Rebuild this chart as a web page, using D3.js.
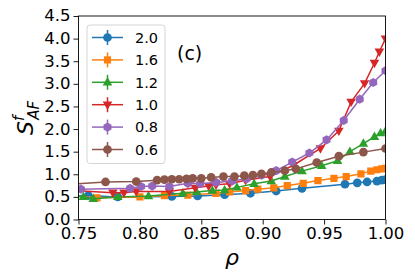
<!DOCTYPE html>
<html>
<head>
<meta charset="utf-8">
<script src="https://cdn.jsdelivr.net/npm/d3@7"></script>
<style>
  body { margin: 0; background: #fff; }
  svg { font-family: "DejaVu Sans", sans-serif; }
</style>
</head>
<body>
<div id="canvas-body"></div>
<script>
// series labels (legend)
var labels = ["2.0", "1.6", "1.2", "1.0", "0.8", "0.6"];

// rho values and S^f_AF values per series
var rho20 = [0.745, 0.758, 0.782, 0.826, 0.847, 0.869, 0.890, 0.911, 0.932, 0.967, 0.977, 0.985, 0.993, 0.997, 1.0];
var val20 = [0.52, 0.53, 0.50, 0.51, 0.52, 0.55, 0.58, 0.63, 0.69, 0.78, 0.81, 0.83, 0.85, 0.87, 0.88];

var rho16 = [0.745, 0.765, 0.800, 0.820, 0.839, 0.862, 0.873, 0.886, 0.896, 0.909, 0.920, 0.933, 0.945, 0.958, 0.968, 0.980, 0.988, 0.993, 0.997, 1.0];
var val16 = [0.52, 0.48, 0.50, 0.53, 0.54, 0.58, 0.61, 0.64, 0.67, 0.70, 0.75, 0.80, 0.86, 0.91, 0.95, 1.01, 1.07, 1.10, 1.12, 1.13];

var rho12 = [0.745, 0.754, 0.762, 0.782, 0.807, 0.835, 0.846, 0.859, 0.869, 0.879, 0.893, 0.907, 0.918, 0.932, 0.948, 0.961, 0.971, 0.982, 0.991, 0.996, 1.0];
var val12 = [0.53, 0.50, 0.46, 0.50, 0.52, 0.58, 0.61, 0.64, 0.65, 0.71, 0.79, 0.85, 0.95, 1.07, 1.19, 1.30, 1.50, 1.68, 1.83, 1.91, 1.95];

var rho10 = [0.745, 0.778, 0.787, 0.797, 0.824, 0.845, 0.856, 0.862, 0.873, 0.886, 0.906, 0.925, 0.947, 0.962, 0.972, 0.983, 0.991, 0.995, 1.0];
var val10 = [0.64, 0.59, 0.59, 0.62, 0.62, 0.70, 0.74, 0.77, 0.79, 0.87, 0.95, 1.20, 1.57, 1.96, 2.60, 3.01, 3.46, 3.71, 4.00];

var rho08 = [0.745, 0.752, 0.792, 0.801, 0.810, 0.824, 0.839, 0.849, 0.862, 0.875, 0.887, 0.899, 0.911, 0.924, 0.938, 0.952, 0.966, 0.979, 0.990, 1.0];
var val08 = [0.67, 0.67, 0.69, 0.73, 0.74, 0.73, 0.80, 0.79, 0.82, 0.85, 0.90, 0.98, 1.08, 1.27, 1.47, 1.76, 2.19, 2.66, 3.03, 3.29];

var rho06 = [0.745, 0.772, 0.797, 0.814, 0.820, 0.826, 0.832, 0.838, 0.843, 0.850, 0.858, 0.868, 0.877, 0.885, 0.892, 0.899, 0.907, 0.918, 0.927, 0.944, 0.962, 0.982, 1.0];
var val06 = [0.78, 0.83, 0.84, 0.87, 0.88, 0.89, 0.89, 0.90, 0.91, 0.91, 0.93, 0.95, 0.95, 0.97, 0.98, 1.01, 1.04, 1.08, 1.12, 1.26, 1.40, 1.49, 1.57];

// tick values
var xticks = [0.75, 0.80, 0.85, 0.90, 0.95, 1.00];
var yticks = [0.0, 0.5, 1.0, 1.5, 2.0, 2.5, 3.0, 3.5, 4.0, 4.5];

var colors = ["#1f77b4", "#ff7f0e", "#2ca02c", "#d62728", "#9467bd", "#8c564b"];
var symbols = ["circle", "square", "up", "down", "hex", "circle"];

var series = [
    {rho: rho20, val: val20},
    {rho: rho16, val: val16},
    {rho: rho12, val: val12},
    {rho: rho10, val: val10},
    {rho: rho08, val: val08},
    {rho: rho06, val: val06}
];

// size of svg image
const W = 415, H = 277;
const margin = {top: 16, right: 29.5, bottom: 57.5, left: 78.5};
const width = W - margin.left - margin.right, height = H - margin.top - margin.bottom;

var s = d3.select("#canvas-body").append("svg")
    .attr("width", W).attr("height", H);

var gs = s.append("g")
    .attr("transform", `translate(${margin.left}, ${margin.top})`);

// scales
var xs = d3.scaleLinear().domain([0.75, 1.0]).range([0, width]);
var ys = d3.scaleLinear().domain([0, 4.5]).range([height, 0]);

s.append("defs").append("clipPath").attr("id", "clip")
    .append("rect").attr("width", width).attr("height", height);

// marker path generator
function marker_path(kind){
    if(kind == "circle") return d3.symbol().type(d3.symbolCircle).size(60)();
    if(kind == "square") return d3.symbol().type(d3.symbolSquare).size(52)();
    if(kind == "up") return "M0,-5.2L4.8,3.2L-4.8,3.2Z";
    if(kind == "down") return "M0,5.2L4.8,-3.2L-4.8,-3.2Z";
    if(kind == "hex"){
        var pts = [];
        for(var i = 0; i < 6; i++){
            var a = Math.PI / 6 + i * Math.PI / 3;
            pts.push([4.6 * Math.cos(a), 4.6 * Math.sin(a)]);
        }
        return "M" + pts.map(function(p){ return p[0].toFixed(2) + "," + p[1].toFixed(2); }).join("L") + "Z";
    }
}

var g = gs.append("g").attr("clip-path", "url(#clip)");

var linefunc = d3.line()
    .x(function(d){ return xs(d[0]); })
    .y(function(d){ return ys(d[1]); });

series.forEach(function(sr, k){
    var pts = sr.rho.map(function(r, i){ return [r, sr.val[i]]; });
    g.append("path")
        .attr("d", linefunc(pts))
        .attr("fill", "none")
        .attr("stroke", colors[k])
        .attr("stroke-width", 1.5);
    g.selectAll(null)
        .data(pts)
        .enter()
        .append("path")
        .attr("d", marker_path(symbols[k]))
        .attr("transform", function(d){ return "translate(" + xs(d[0]) + "," + ys(d[1]) + ")"; })
        .attr("fill", colors[k]);
});

// axes
var xaxis = d3.axisBottom(xs).tickValues(xticks).tickSize(5).tickPadding(3)
    .tickFormat(d3.format(".2f"));
var gx = gs.append("g")
    .attr("transform", "translate(0," + height + ")")
    .call(xaxis);
var yaxis = d3.axisLeft(ys).tickValues(yticks).tickSize(5).tickPadding(3)
    .tickFormat(d3.format(".1f"));
var gy = gs.append("g").call(yaxis);

[gx, gy].forEach(function(a){
    a.select(".domain").remove();
    a.selectAll("line").attr("stroke", "#000").attr("stroke-width", 0.9);
    a.selectAll("text")
        .attr("fill", "#000")
        .attr("font-size", "16.5px")
        .attr("font-family", "DejaVu Sans, sans-serif");
});
// keep the "0.0" label clear of the first x label
gy.selectAll(".tick text").attr("dy", "0.3em");

// frame
gs.append("rect")
    .attr("width", width).attr("height", height)
    .attr("fill", "none").attr("stroke", "#000").attr("stroke-width", 0.9);

// axis labels
s.append("text")
    .attr("x", margin.left + width / 2)
    .attr("y", 265)
    .attr("text-anchor", "middle")
    .attr("font-size", "22px")
    .attr("font-style", "italic")
    .text("ρ");

var yl = s.append("text")
    .attr("transform", "translate(33,118) rotate(-90)")
    .attr("text-anchor", "middle")
    .attr("font-size", "22px")
    .attr("font-style", "italic");
yl.append("tspan").text("S");
yl.append("tspan").attr("font-size", "15px").attr("dy", -9).text("f");
yl.append("tspan").attr("font-size", "15px").attr("dx", -4).attr("dy", 15).text("AF");

// panel tag
s.append("text")
    .attr("x", 177)
    .attr("y", 60)
    .attr("font-size", "19px")
    .text("(c)");

// legend
var leg = s.append("g");
leg.append("rect")
    .attr("x", 87).attr("y", 25)
    .attr("width", 78).attr("height", 138.5)
    .attr("rx", 3)
    .attr("fill", "#fff").attr("fill-opacity", 0.8)
    .attr("stroke", "#d0d0d0").attr("stroke-width", 0.9);

labels.forEach(function(lb, k){
    var y = 37.5 + k * 22.4;
    var it = leg.append("g");
    it.append("line")
        .attr("x1", 92).attr("x2", 123).attr("y1", y).attr("y2", y)
        .attr("stroke", colors[k]).attr("stroke-width", 1.5);
    it.append("line")
        .attr("x1", 107.5).attr("x2", 107.5).attr("y1", y - 7.5).attr("y2", y + 7.5)
        .attr("stroke", colors[k]).attr("stroke-width", 1.5);
    it.append("path")
        .attr("d", marker_path(symbols[k]))
        .attr("transform", "translate(107.5," + y + ")")
        .attr("fill", colors[k]);
    it.append("text")
        .attr("x", 135)
        .attr("y", y)
        .attr("dy", "0.36em")
        .attr("font-size", "14.5px")
        .text(lb);
});
</script>
</body>
</html>
